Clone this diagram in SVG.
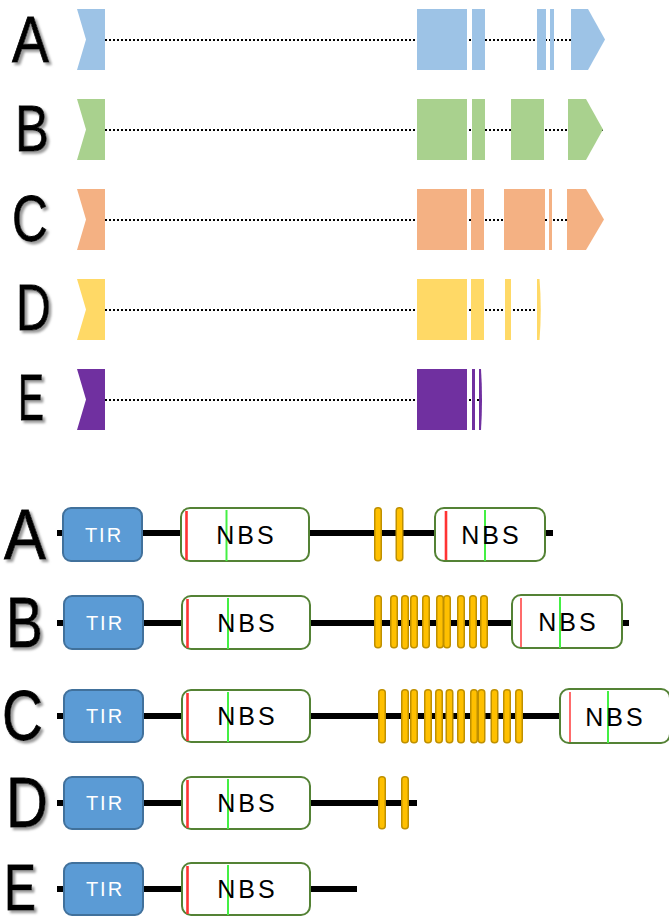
<svg xmlns="http://www.w3.org/2000/svg" width="669" height="917" viewBox="0 0 669 917">
  <style>
    .lbl { font-family: "Liberation Sans", Arial, sans-serif; fill: #000; stroke: #000; stroke-width: 0.8; filter: url(#shadow); }
    .intron { stroke: #000; stroke-width: 2; stroke-dasharray: 2 2; fill: none; shape-rendering: crispEdges; }
    .ga { fill: #9DC3E6; }
    .gb { fill: #A9D18E; }
    .gc { fill: #F4B183; }
    .gd { fill: #FFD966; }
    .ge { fill: #7030A0; }
    .bb { stroke: #000; stroke-width: 6; fill: none; }
    .tir { fill: #5B9BD5; stroke: #41719C; stroke-width: 2; }
    .tirt { font-family: "Liberation Sans", Arial, sans-serif; font-size: 20px; fill: #fff; letter-spacing: 2px; text-anchor: middle; }
    .nbs { fill: #fff; stroke: #548235; stroke-width: 2; }
    .nbst { font-family: "Liberation Sans", Arial, sans-serif; font-size: 25px; fill: #000; letter-spacing: 3px; text-anchor: middle; }
    .ploop { stroke: #FF3333; stroke-width: 2.6; }
    .ploop2 { stroke: #FF6B6B; stroke-width: 2; }
    .gmark { stroke: #44F044; stroke-width: 2; }
    .lrr { fill: #FFC000; stroke: #BF9000; stroke-width: 1.5; }
  </style>
  <defs>
    <filter id="shadow" x="-20%" y="-20%" width="150%" height="150%">
      <feDropShadow dx="2.5" dy="2.5" stdDeviation="0.8" flood-color="#9a9a9a" flood-opacity="1"/>
    </filter>
  </defs>

  <rect width="669" height="917" fill="#fff"/>

  <!-- gene structures -->
  <g id="gene-A">
    <text class="lbl" x="12" y="62" font-size="64" textLength="37" lengthAdjust="spacingAndGlyphs">A</text>
    <line class="intron" x1="105" y1="40" x2="605" y2="40"/>
    <polygon class="ga" points="77,9 105,9 105,70 77,70 86,39.5"/>
    <rect class="ga" x="417" y="9" width="50" height="61"/>
    <rect class="ga" x="472" y="9" width="13" height="61"/>
    <rect class="ga" x="537" y="9" width="9" height="61"/>
    <rect class="ga" x="550" y="9" width="4" height="61"/>
    <polygon class="ga" points="571,9 588,9 605,39.5 588,70 571,70"/>
  </g>

  <g id="gene-B">
    <text class="lbl" x="15" y="151" font-size="64" textLength="34" lengthAdjust="spacingAndGlyphs">B</text>
    <line class="intron" x1="105" y1="130" x2="603" y2="130"/>
    <polygon class="gb" points="77,99 105,99 105,160 77,160 86,129.5"/>
    <rect class="gb" x="417" y="99" width="50" height="61"/>
    <rect class="gb" x="472" y="99" width="13" height="61"/>
    <rect class="gb" x="511" y="99" width="33" height="61"/>
    <polygon class="gb" points="568,99 586,99 603,129.5 586,160 568,160"/>
  </g>

  <g id="gene-C">
    <text class="lbl" x="12" y="241" font-size="64" textLength="36" lengthAdjust="spacingAndGlyphs">C</text>
    <line class="intron" x1="105" y1="220" x2="604" y2="220"/>
    <polygon class="gc" points="77,189 105,189 105,250 77,250 86,219.5"/>
    <rect class="gc" x="417" y="189" width="50" height="61"/>
    <rect class="gc" x="471" y="189" width="13" height="61"/>
    <rect class="gc" x="504" y="189" width="41" height="61"/>
    <rect class="gc" x="549" y="189" width="3" height="61"/>
    <polygon class="gc" points="567,189 586,189 604,219.5 586,250 567,250"/>
  </g>

  <g id="gene-D">
    <text class="lbl" x="16" y="330" font-size="64" textLength="35" lengthAdjust="spacingAndGlyphs">D</text>
    <line class="intron" x1="105" y1="310" x2="538" y2="310"/>
    <polygon class="gd" points="77,279 105,279 105,340 77,340 86,309.5"/>
    <rect class="gd" x="417" y="279" width="50" height="61"/>
    <rect class="gd" x="471" y="279" width="13" height="61"/>
    <rect class="gd" x="505" y="279" width="6" height="61"/>
    <path class="gd" d="M537,279 L539.5,279 Q542,309.5 539.5,340 L537,340 Z"/>
  </g>

  <g id="gene-E">
    <text class="lbl" x="18" y="420" font-size="64" textLength="26" lengthAdjust="spacingAndGlyphs">E</text>
    <line class="intron" x1="105" y1="400" x2="480" y2="400"/>
    <polygon class="ge" points="77,369 105,369 105,430 77,430 86,399.5"/>
    <rect class="ge" x="417" y="369" width="50" height="61"/>
    <rect class="ge" x="472" y="369" width="3" height="61"/>
    <path class="ge" d="M479,369 L481,369 Q483,399.5 481,430 L479,430 Z"/>
  </g>

  <!-- protein backbones -->
  <g id="connectors">
    <line class="bb" x1="57" y1="533" x2="553" y2="533"/>
    <line class="bb" x1="57" y1="623" x2="629" y2="623"/>
    <line class="bb" x1="57" y1="716" x2="560" y2="716"/>
    <line class="bb" x1="57" y1="803" x2="417" y2="803"/>
    <line class="bb" x1="57" y1="889" x2="357" y2="889"/>
  </g>

  <!-- protein A -->
  <g id="protein-A">
    <text class="lbl" x="4" y="559" font-size="70" textLength="42" lengthAdjust="spacingAndGlyphs">A</text>
    <g id="A-tir">
      <rect class="tir" x="63" y="508" width="79" height="53" rx="8"/>
      <text class="tirt" x="104" y="542">TIR</text>
    </g>
    <g id="A-nbs1">
      <rect class="nbs" x="181" y="508" width="128" height="53" rx="9"/>
      <line class="ploop" x1="186.5" y1="511" x2="186.5" y2="560"/>
      <line class="gmark" x1="226.5" y1="510" x2="226.5" y2="561"/>
      <text class="nbst" x="246.5" y="544">NBS</text>
    </g>
    <g id="A-lrr">
      <rect class="lrr" x="374.75" y="507.75" width="6.5" height="53" rx="3"/>
      <rect class="lrr" x="396.25" y="507.75" width="6.5" height="53" rx="3"/>
    </g>
    <g id="A-nbs2">
      <rect class="nbs" x="435" y="508" width="110" height="53" rx="9"/>
      <line class="ploop" x1="446" y1="511" x2="446" y2="560"/>
      <line class="gmark" x1="485" y1="510" x2="485" y2="561"/>
      <text class="nbst" x="491.5" y="544">NBS</text>
    </g>
  </g>

  <!-- protein B -->
  <g id="protein-B">
    <text class="lbl" x="6" y="647" font-size="70" textLength="37" lengthAdjust="spacingAndGlyphs">B</text>
    <g id="B-tir">
      <rect class="tir" x="64" y="596" width="79" height="53" rx="8"/>
      <text class="tirt" x="105" y="630">TIR</text>
    </g>
    <g id="B-nbs1">
      <rect class="nbs" x="182" y="596" width="128" height="53" rx="9"/>
      <line class="ploop" x1="187.5" y1="599" x2="187.5" y2="648"/>
      <line class="gmark" x1="228" y1="598" x2="228" y2="649"/>
      <text class="nbst" x="247.5" y="632">NBS</text>
    </g>
    <g id="B-lrr">
      <rect class="lrr" x="374.75" y="595.75" width="6.5" height="52" rx="3"/>
      <rect class="lrr" x="390.75" y="595.75" width="6.5" height="52" rx="3"/>
      <rect class="lrr" x="401.75" y="595.75" width="6.5" height="53" rx="3"/>
      <rect class="lrr" x="410.75" y="595.75" width="6.5" height="52" rx="3"/>
      <rect class="lrr" x="422.75" y="595.75" width="6.5" height="52" rx="3"/>
      <rect class="lrr" x="436.75" y="595.75" width="6.5" height="52" rx="3"/>
      <rect class="lrr" x="443.75" y="595.75" width="6.5" height="52" rx="3"/>
      <rect class="lrr" x="457.75" y="595.75" width="6.5" height="52" rx="3"/>
      <rect class="lrr" x="469.75" y="595.75" width="6.5" height="52" rx="3"/>
      <rect class="lrr" x="480.75" y="595.75" width="6.5" height="52" rx="3"/>
    </g>
    <g id="B-nbs2">
      <rect class="nbs" x="512" y="595" width="110" height="53" rx="9"/>
      <line class="ploop2" x1="521" y1="598" x2="521" y2="647"/>
      <line class="gmark" x1="560" y1="597" x2="560" y2="648"/>
      <text class="nbst" x="568.5" y="631">NBS</text>
    </g>
  </g>

  <!-- protein C -->
  <g id="protein-C">
    <text class="lbl" x="2" y="740" font-size="70" textLength="41" lengthAdjust="spacingAndGlyphs">C</text>
    <g id="C-tir">
      <rect class="tir" x="64" y="690" width="79" height="52" rx="8"/>
      <text class="tirt" x="105" y="723">TIR</text>
    </g>
    <g id="C-nbs1">
      <rect class="nbs" x="182" y="690" width="128" height="52" rx="9"/>
      <line class="ploop" x1="187.5" y1="693" x2="187.5" y2="741"/>
      <line class="gmark" x1="228" y1="692" x2="228" y2="742"/>
      <text class="nbst" x="247.5" y="725">NBS</text>
    </g>
    <g id="C-lrr">
      <rect class="lrr" x="378.75" y="689.75" width="6.5" height="53" rx="3"/>
      <rect class="lrr" x="401.75" y="689.75" width="6.5" height="53" rx="3"/>
      <rect class="lrr" x="410.75" y="689.75" width="6.5" height="53" rx="3"/>
      <rect class="lrr" x="424.75" y="689.75" width="6.5" height="53" rx="3"/>
      <rect class="lrr" x="435.75" y="689.75" width="6.5" height="53" rx="3"/>
      <rect class="lrr" x="446.25" y="689.75" width="6.5" height="53" rx="3"/>
      <rect class="lrr" x="457.75" y="689.75" width="6.5" height="53" rx="3"/>
      <rect class="lrr" x="470.75" y="689.75" width="6.5" height="53" rx="3"/>
      <rect class="lrr" x="478.25" y="689.75" width="6.5" height="53" rx="3"/>
      <rect class="lrr" x="491.25" y="689.75" width="6.5" height="53" rx="3"/>
      <rect class="lrr" x="503.75" y="689.75" width="6.5" height="53" rx="3"/>
      <rect class="lrr" x="515.75" y="689.75" width="6.5" height="53" rx="3"/>
    </g>
    <g id="C-nbs2">
      <rect class="nbs" x="560" y="689" width="110" height="54" rx="9"/>
      <line class="ploop2" x1="570" y1="692" x2="570" y2="742"/>
      <line class="gmark" x1="608" y1="691" x2="608" y2="743"/>
      <text class="nbst" x="615.5" y="726">NBS</text>
    </g>
  </g>

  <!-- protein D -->
  <g id="protein-D">
    <text class="lbl" x="6" y="827" font-size="70" textLength="42" lengthAdjust="spacingAndGlyphs">D</text>
    <g id="D-tir">
      <rect class="tir" x="64" y="777" width="79" height="52" rx="8"/>
      <text class="tirt" x="105" y="810">TIR</text>
    </g>
    <g id="D-nbs1">
      <rect class="nbs" x="182" y="777" width="128" height="52" rx="9"/>
      <line class="ploop" x1="187.5" y1="780" x2="187.5" y2="828"/>
      <line class="gmark" x1="228" y1="779" x2="228" y2="829"/>
      <text class="nbst" x="247.5" y="812">NBS</text>
    </g>
    <g id="D-lrr">
      <rect class="lrr" x="378.75" y="776.75" width="6.5" height="52" rx="3"/>
      <rect class="lrr" x="401.75" y="776.75" width="6.5" height="52" rx="3"/>
    </g>
  </g>

  <!-- protein E -->
  <g id="protein-E">
    <text class="lbl" x="4" y="910" font-size="64" textLength="32" lengthAdjust="spacingAndGlyphs">E</text>
    <g id="E-tir">
      <rect class="tir" x="64" y="863" width="79" height="52" rx="8"/>
      <text class="tirt" x="105" y="896">TIR</text>
    </g>
    <g id="E-nbs1">
      <rect class="nbs" x="182" y="863" width="128" height="52" rx="9"/>
      <line class="ploop" x1="187.5" y1="866" x2="187.5" y2="914"/>
      <line class="gmark" x1="228" y1="865" x2="228" y2="915"/>
      <text class="nbst" x="247.5" y="898">NBS</text>
    </g>
  </g>
</svg>
